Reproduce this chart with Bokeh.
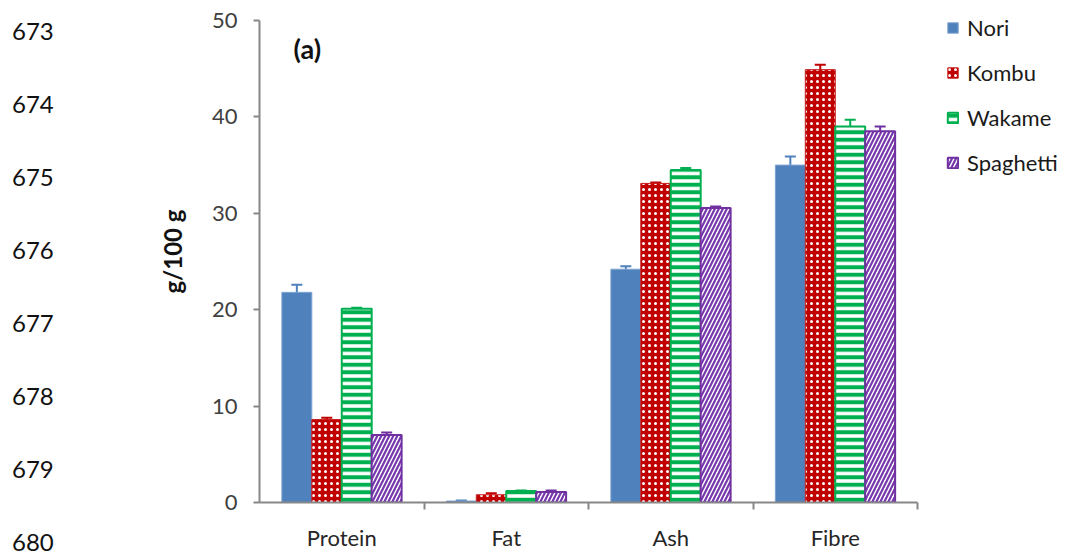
from bokeh.plotting import figure
from bokeh.layouts import row
from bokeh.models import ColumnDataSource, FixedTicker, Whisker, TeeHead, Legend, LegendItem, Label, Div
from bokeh.embed import file_html
from bokeh.resources import INLINE

# ---------------- data ----------------
categories = ["Protein", "Fat", "Ash", "Fibre"]
series_names = ["Nori", "Kombu", "Wakame", "Spaghetti"]
nori = [21.8, 0.15, 24.2, 35.0]
nori_err = [0.8, 0.05, 0.3, 0.9]
kombu = [8.6, 0.8, 33.1, 44.9]
kombu_err = [0.2, 0.15, 0.1, 0.5]
wakame = [20.1, 1.2, 34.5, 39.0]
wakame_err = [0.1, 0.05, 0.2, 0.7]
spaghetti = [7.0, 1.1, 30.55, 38.5]
spaghetti_err = [0.25, 0.15, 0.15, 0.5]
y_ticks = [0, 10, 20, 30, 40, 50]
y_max = 50
line_numbers = ["673", "674", "675", "676", "677", "678", "679", "680"]
panel_label = "(a)"
y_label = "g/100 g"

values = [nori, kombu, wakame, spaghetti]
errors = [nori_err, kombu_err, wakame_err, spaghetti_err]

# ---------------- styles ----------------
FONT = "Lato"
styles = [
    dict(fill_color="#4F81BD", line_color="#7EA3D0", line_width=1,
         hatch_pattern=None),
    dict(fill_color="#C00000", line_color="#C81A1A", line_width=1,
         hatch_pattern="dot", hatch_color="white", hatch_scale=6, hatch_weight=1.5),
    dict(fill_color="white", line_color="#00B050", line_width=2,
         hatch_pattern="horizontal_line", hatch_color="#00B050", hatch_scale=7.5, hatch_weight=4),
    dict(fill_color="white", line_color="#7030A0", line_width=2,
         hatch_pattern="right_diagonal_line", hatch_color="#7636AC", hatch_scale=8, hatch_weight=2.2),
]
err_colors = ["#4F81BD", "#C00000", "#00B050", "#7030A0"]

# ---------------- geometry (pixels) ----------------
W, H = 1075, 557
NUM_W = 100              # strip holding the manuscript line numbers
AX_LEFT = 259            # y-axis position
AX_RIGHT = 917           # end of the x-axis line
AX_TOP = 20              # y = 50
AX_BOTTOM = 502          # y = 0
n = len(categories)

# frame covers everything right of / above the axes so the legend is not clipped;
# the axis lines are limited with `bounds`
frame_w = W - AX_LEFT
frame_h = AX_BOTTOM
x_end = n * frame_w / (AX_RIGHT - AX_LEFT)
y_end = y_max * frame_h / (AX_BOTTOM - AX_TOP)

# ---------- line-number strip (plain HTML text) ----------
first_y, pitch = 31, 73
spans = "".join(
    f'<div style="position:absolute;left:12px;top:{first_y + pitch * k - 15}px;'
    f'line-height:30px;height:30px;">{t}</div>'
    for k, t in enumerate(line_numbers))
num_div = Div(text=f'<div style="position:relative;width:{NUM_W}px;height:{H}px;'
                   f'font-family:{FONT};font-size:24px;color:#111111;">{spans}</div>',
              width=NUM_W, height=H, margin=0)

# ---------- main chart ----------
p = figure(width=W - NUM_W, height=H, x_range=(0, x_end), y_range=(0, y_end),
           output_backend="svg", toolbar_location=None,
           min_border_left=AX_LEFT - NUM_W, min_border_right=0,
           min_border_top=0, min_border_bottom=H - AX_BOTTOM, margin=0)
p.outline_line_color = None
p.xgrid.visible = False
p.ygrid.visible = False

bar_w = 0.182
offsets = [-1.5 * bar_w, -0.5 * bar_w, 0.5 * bar_w, 1.5 * bar_w]

legend_items = []
for name, vals, errs, off, st, ec in zip(series_names, values, errors, offsets, styles, err_colors):
    xs = [i + 0.5 + off for i in range(n)]
    src = ColumnDataSource(dict(
        x=xs, top=vals,
        upper=[v + e for v, e in zip(vals, errs)],
        lower=[v - e for v, e in zip(vals, errs)],
    ))
    kw = {k: v for k, v in st.items() if v is not None}
    r = p.vbar(x="x", top="top", bottom=0, width=bar_w, source=src, **kw)
    legend_items.append(LegendItem(label=name, renderers=[r]))
    wh = Whisker(source=src, base="x", upper="upper", lower="lower",
                 line_color=ec, line_width=2,
                 upper_head=TeeHead(size=11, line_color=ec, line_width=2),
                 lower_head=TeeHead(size=11, line_color=ec, line_width=2))
    p.add_layout(wh)

# axes
AX_COL = "#878787"
p.xaxis.bounds = (0, n)
p.xaxis.ticker = FixedTicker(ticks=[i + 0.5 for i in range(n)],
                             minor_ticks=list(range(1, n + 1)))
p.xaxis.major_label_overrides = {i + 0.5: c for i, c in enumerate(categories)}
p.xaxis.major_tick_out = 0
p.xaxis.major_tick_in = 0
p.xaxis.minor_tick_out = 7
p.xaxis.minor_tick_in = 0
p.xaxis.minor_tick_line_color = AX_COL
p.xaxis.minor_tick_line_width = 2
p.xaxis.axis_line_color = AX_COL
p.xaxis.axis_line_width = 2
p.xaxis.major_label_standoff = 14
p.xaxis.major_label_text_font = FONT
p.xaxis.major_label_text_font_size = "22px"
p.xaxis.major_label_text_color = "#262626"

p.yaxis.bounds = (0, y_max)
p.yaxis.ticker = FixedTicker(ticks=y_ticks)
p.yaxis.minor_tick_line_color = None
p.yaxis.major_tick_out = 6
p.yaxis.major_tick_in = 0
p.yaxis.major_tick_line_color = AX_COL
p.yaxis.major_tick_line_width = 2
p.yaxis.axis_line_color = AX_COL
p.yaxis.axis_line_width = 2
p.yaxis.major_label_standoff = 16
p.yaxis.major_label_text_font = FONT
p.yaxis.major_label_text_font_size = "22px"
p.yaxis.major_label_text_color = "#404040"
p.yaxis.axis_label = y_label
p.yaxis.axis_label_text_font = FONT
p.yaxis.axis_label_text_font_style = "bold"
p.yaxis.axis_label_text_font_size = "24px"
p.yaxis.axis_label_text_color = "#111111"
p.yaxis.axis_label_standoff = 22

# legend (inside the enlarged frame, right of the x-axis end)
legend = Legend(items=legend_items, location=(946 - AX_LEFT, 326),
                orientation="vertical", border_line_color=None,
                background_fill_alpha=0, padding=0, margin=0,
                label_text_font=FONT, label_text_font_size="22px",
                label_text_color="#1a1a1a",
                glyph_width=13, glyph_height=13, label_standoff=8,
                label_height=22, spacing=18)
p.add_layout(legend)

# panel label
p.add_layout(Label(x=293 - AX_LEFT, y=AX_BOTTOM - 48, x_units="screen", y_units="screen",
                   text=panel_label, text_font=FONT, text_font_style="bold",
                   text_font_size="27px", text_baseline="middle", text_color="#111111"))

layout = row(num_div, p, spacing=0)
open("out.html", "w").write(file_html(layout, INLINE))
